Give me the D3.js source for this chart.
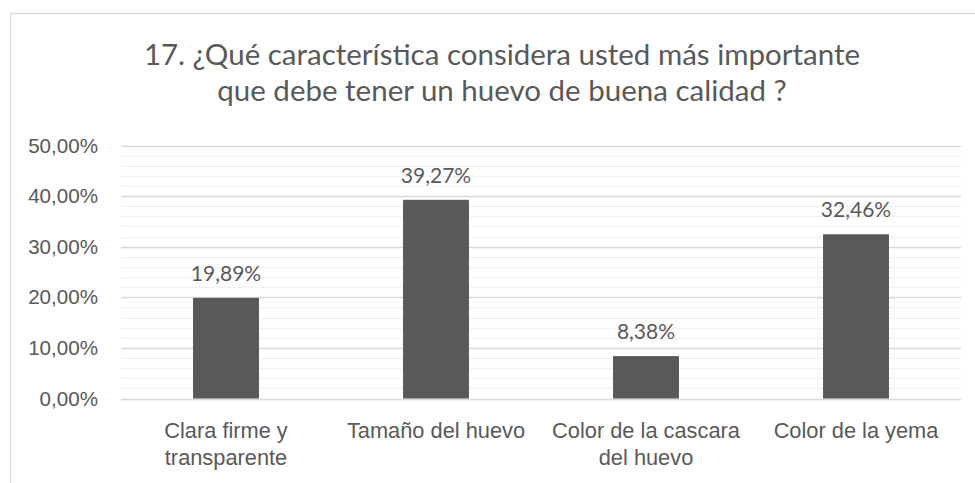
<!DOCTYPE html>
<html>
<head>
<meta charset="utf-8">
<script src="https://cdn.jsdelivr.net/npm/d3@7"></script>
<style>
  body { margin: 0; background: #fff; }
  svg { display: block; font-family: Lato, "Open Sans", sans-serif; }
</style>
</head>
<body>
<div id="chart"></div>
<script>
// data
var titleLines = ["17. ¿Qué característica considera usted más importante",
                  "que debe tener un huevo de buena calidad ?"];
var categories = ["Clara firme y\ntransparente", "Tamaño del huevo",
                  "Color de la cascara\ndel huevo", "Color de la yema"];
var values = [0.1989, 0.3927, 0.0838, 0.3246];
var yTicks = [0, 0.1, 0.2, 0.3, 0.4, 0.5];

var width = 975, height = 483;
var margin = {top: 145.5, right: 14, bottom: 84.5, left: 121};
var textColor = "#595959";

var svg = d3.select("#chart").append("svg")
  .attr("width", width).attr("height", height);

// chart frame (runs off the right/bottom edge like the source crop)
svg.append("rect")
  .attr("x", 10.5).attr("y", 13.5)
  .attr("width", 1000).attr("height", 600)
  .attr("fill", "none").attr("stroke", "#d9d9d9").attr("stroke-width", 1.5);

// title
svg.append("text")
  .attr("text-anchor", "middle")
  .attr("fill", textColor)
  .style("font-size", "29.5px")
  .selectAll("tspan").data(titleLines).enter().append("tspan")
  .attr("x", 502)
  .attr("y", function(d, i) { return 65 + i * 36; })
  .text(function(d) { return d; });

var x = d3.scaleBand()
  .domain(categories)
  .range([margin.left, width - margin.right])
  .paddingInner(0.686).paddingOuter(0.343);

var y = d3.scaleLinear()
  .domain([0, 0.5])
  .range([height - margin.bottom, margin.top]);

var fmt = function(v) { return d3.format(".2%")(v).replace(".", ","); };

// minor gridlines every 2%
svg.append("g").selectAll("line")
  .data(d3.range(0, 0.5001, 0.02).filter(function(v) { return Math.round(v * 100) % 10 != 0; }))
  .enter().append("line")
  .attr("x1", margin.left).attr("x2", width - margin.right)
  .attr("y1", function(d) { return Math.round(y(d)) + 0.5; })
  .attr("y2", function(d) { return Math.round(y(d)) + 0.5; })
  .attr("stroke", "#f2f2f2").attr("stroke-width", 1.5);

// major gridlines
svg.append("g").selectAll("line")
  .data(yTicks)
  .enter().append("line")
  .attr("x1", margin.left).attr("x2", width - margin.right)
  .attr("y1", function(d) { return Math.round(y(d)) + 0.5; })
  .attr("y2", function(d) { return Math.round(y(d)) + 0.5; })
  .attr("stroke", "#d9d9d9").attr("stroke-width", 1.5);

// y axis labels
var yAxis = svg.append("g")
  .attr("transform", "translate(" + (margin.left - 23) + ",0)")
  .call(d3.axisLeft(y).tickValues(yTicks).tickFormat(fmt).tickSize(0).tickPadding(0));
yAxis.select(".domain").remove();
yAxis.selectAll("text")
  .attr("fill", textColor).style("font-size", "20.6px")
  .attr("font-family", null);

// bars
svg.append("g").selectAll("rect")
  .data(values)
  .enter().append("rect")
  .attr("x", function(d, i) { return x(categories[i]); })
  .attr("width", x.bandwidth())
  .attr("y", function(d) { return y(d); })
  .attr("height", function(d) { return y(0) - y(d); })
  .attr("fill", "#595959");

// value labels
svg.append("g").selectAll("text")
  .data(values)
  .enter().append("text")
  .attr("x", function(d, i) { return x(categories[i]) + x.bandwidth() / 2; })
  .attr("y", function(d) { return y(d) - 17; })
  .attr("text-anchor", "middle")
  .attr("fill", textColor).style("font-size", "21px")
  .text(fmt);

// x axis labels
var xAxis = svg.append("g")
  .attr("transform", "translate(0," + y(0) + ")")
  .call(d3.axisBottom(x).tickSize(0).tickFormat(""));
xAxis.select(".domain").remove();
xAxis.selectAll(".tick").append("text")
  .attr("text-anchor", "middle")
  .attr("fill", textColor).style("font-size", "21.8px")
  .selectAll("tspan")
  .data(function(d) { return d.split("\n"); })
  .enter().append("tspan")
  .attr("x", 0)
  .attr("y", function(d, i) { return 39.5 + i * 27; })
  .text(function(d) { return d; });
</script>
</body>
</html>
